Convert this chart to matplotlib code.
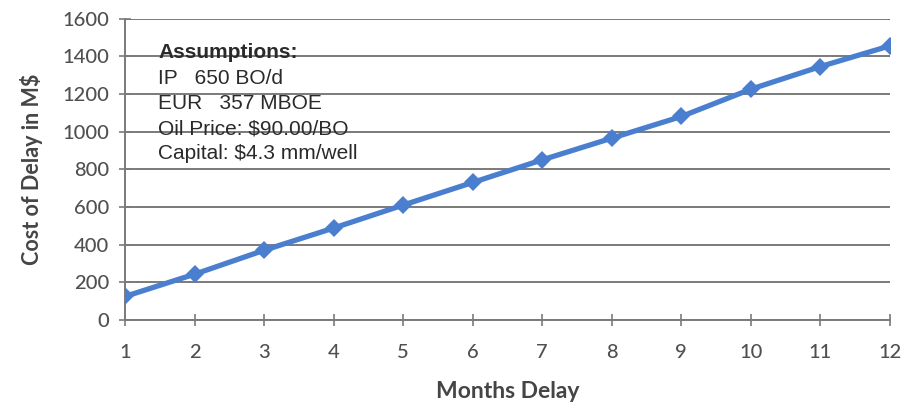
import matplotlib
matplotlib.use("Agg")
import matplotlib.pyplot as plt

# Cost of delay by number of months a well is delayed
months = [1, 2, 3, 4, 5, 6, 7, 8, 9, 10, 11, 12]
cost_mm = [125, 243, 370, 488, 610, 730, 850, 965, 1080, 1225, 1345, 1455]
y_ticks = [0, 200, 400, 600, 800, 1000, 1200, 1400, 1600]
assumptions = ["IP   650 BO/d", "EUR   357 MBOE", "Oil Price: $90.00/BO", "Capital: $4.3 mm/well"]

fig = plt.figure(figsize=(9.05, 4.08), dpi=100)
ax = fig.add_axes([125 / 905, 1 - 320 / 408, 765 / 905, 301.5 / 408])

grid_c = "#7a7a7a"
tick_c = "#505050"

ax.plot(months, cost_mm, color="#4a7fd0", lw=3.8, marker="D", ms=9.5,
        markeredgewidth=0, zorder=3, solid_capstyle="round")

ax.set_xlim(1, 12)
ax.set_ylim(0, 1600)
ax.set_xticks(months)
ax.set_yticks(y_ticks)
ax.yaxis.grid(True, color=grid_c, lw=1.4)
ax.set_axisbelow(True)

for s in ["top", "right"]:
    ax.spines[s].set_visible(False)
for s in ["left", "bottom"]:
    ax.spines[s].set_color(grid_c)
    ax.spines[s].set_linewidth(1.4)

ax.tick_params(axis="both", direction="inout", length=9, width=1.2, color=grid_c,
               labelsize=14.5, labelcolor=tick_c)
ax.tick_params(axis="y", pad=7)
ax.tick_params(axis="x", pad=13)
for lab in ax.get_xticklabels() + ax.get_yticklabels():
    lab.set_fontfamily("Lato")
    lab.set_fontweight("medium")

ax.set_xlabel("Months Delay", fontsize=16.5, fontweight="bold", color="#454545",
              family="Lato", labelpad=14)
ax.set_ylabel("Cost of Delay in M$", fontsize=15.5, fontweight="bold", color="#454545",
              family="Lato", labelpad=14)

ax.text(158 / 905, 1 - 53 / 408, "Assumptions:", transform=fig.transFigure,
        fontsize=15, fontweight="bold", family="Liberation Sans", color="#2a2a2a",
        va="center")
for i, line in enumerate(assumptions):
    ax.text(158 / 905, 1 - (78 + 25.3 * i) / 408, line, transform=fig.transFigure,
            fontsize=15, family="Liberation Sans", color="#2a2a2a", va="center")

fig.savefig("out.png", dpi=100)
